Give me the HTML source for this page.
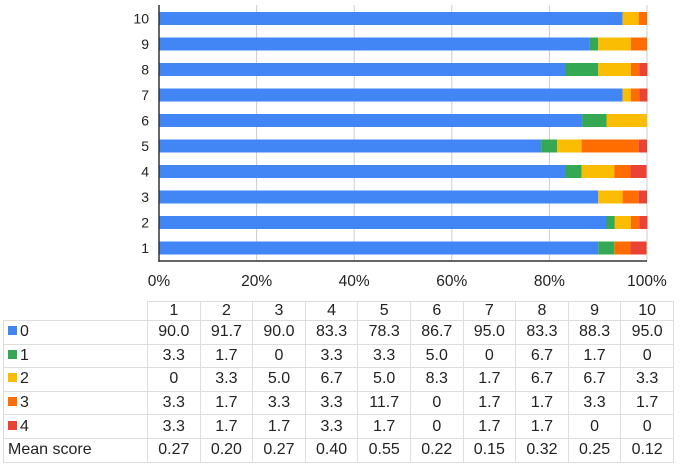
<!DOCTYPE html>
<html><head><meta charset="utf-8"><style>
body{margin:0;width:683px;height:466px;background:#fff;font-family:"Liberation Sans",sans-serif;overflow:hidden;position:relative}
svg{position:absolute;left:0;top:0}
table{position:absolute;left:3px;top:301px;border-collapse:collapse;font-size:16px;color:#222}
td{border:1px solid #ddd;height:22.6px;padding:0;text-align:center;width:51.6px}
td.l{text-align:left;width:139px;padding-left:4px}
tr.h td{height:18px}
tr.h td.l{border:none;border-bottom:1px solid #ddd}
.sw{display:inline-block;width:9px;height:9px;margin-right:3px;vertical-align:1px}
</style></head><body>
<svg width="683" height="300" id="chart"></svg>
<table id="tbl"></table>
<script>
const categories=["1","2","3","4","5","6","7","8","9","10"];
const s0=[90.0,91.7,90.0,83.3,78.3,86.7,95.0,83.3,88.3,95.0];
const s1=[3.3,1.7,0,3.3,3.3,5.0,0,6.7,1.7,0];
const s2=[0,3.3,5.0,6.7,5.0,8.3,1.7,6.7,6.7,3.3];
const s3=[3.3,1.7,3.3,3.3,11.7,0,1.7,1.7,3.3,1.7];
const s4=[3.3,1.7,1.7,3.3,1.7,0,1.7,1.7,0,0];
const meanScore=["0.27","0.20","0.27","0.40","0.55","0.22","0.15","0.32","0.25","0.12"];
const seriesNames=["0","1","2","3","4"];
const colors=["#4285f4","#34a853","#fbbc04","#ff6d01","#ea4335"];
const xTicks=[0,20,40,60,80,100];
const series=[s0,s1,s2,s3,s4];
const NS="http://www.w3.org/2000/svg";
const svg=document.getElementById('chart');
const x0=159,x1=647,yTop=5,yBot=261;
const xs=v=>x0+(x1-x0)*v/100;
const ys=i=>248-i*25.5;
function el(t,a){const e=document.createElementNS(NS,t);for(const k in a)e.setAttribute(k,a[k]);svg.appendChild(e);return e;}
xTicks.forEach(t=>{
 const g=el('line',{x1:xs(t),x2:xs(t),y1:yTop,y2:yBot,stroke:'#ccc','stroke-width':1});
 
 
 const tx=el('text',{x:xs(t),y:286,'text-anchor':'middle','font-size':15.5,fill:'#222'});
 tx.textContent=t+'%';
 
 
});
categories.forEach((c,i)=>{
 let acc=0;
 series.forEach((s,k)=>{
  const v=s[i];
  const r=el('rect',{x:xs(acc),y:ys(i)-6.5,width:xs(acc+v)-xs(acc),height:13,fill:colors[k]});
  
  
  acc+=v;
 });
 const t=el('text',{x:149,y:ys(i)+5,'text-anchor':'end','font-size':14,fill:'#222'});
 t.textContent=c;
 
 
});
const ax=el('line',{x1:x0,x2:x0,y1:yTop,y2:yBot+1,stroke:'#333','stroke-width':1.5});


const bx=el('line',{x1:x0,x2:x1,y1:yBot,y2:yBot,stroke:'#333','stroke-width':1.5});


const tbl=document.getElementById('tbl');
let h='<tr class="h"><td class="l"></td>'+categories.map(c=>'<td>'+c+'</td>').join('')+'</tr>';
series.forEach((s,k)=>{
 h+='<tr><td class="l"><span class="sw" style="background:'+colors[k]+'"></span>'+seriesNames[k]+'</td>'+s.map(v=>'<td>'+(v===0?'0':v.toFixed(1))+'</td>').join('')+'</tr>';
});
h+='<tr><td class="l">Mean score</td>'+meanScore.map(v=>'<td>'+v+'</td>').join('')+'</tr>';
tbl.innerHTML=h;
</script>
</body></html>
